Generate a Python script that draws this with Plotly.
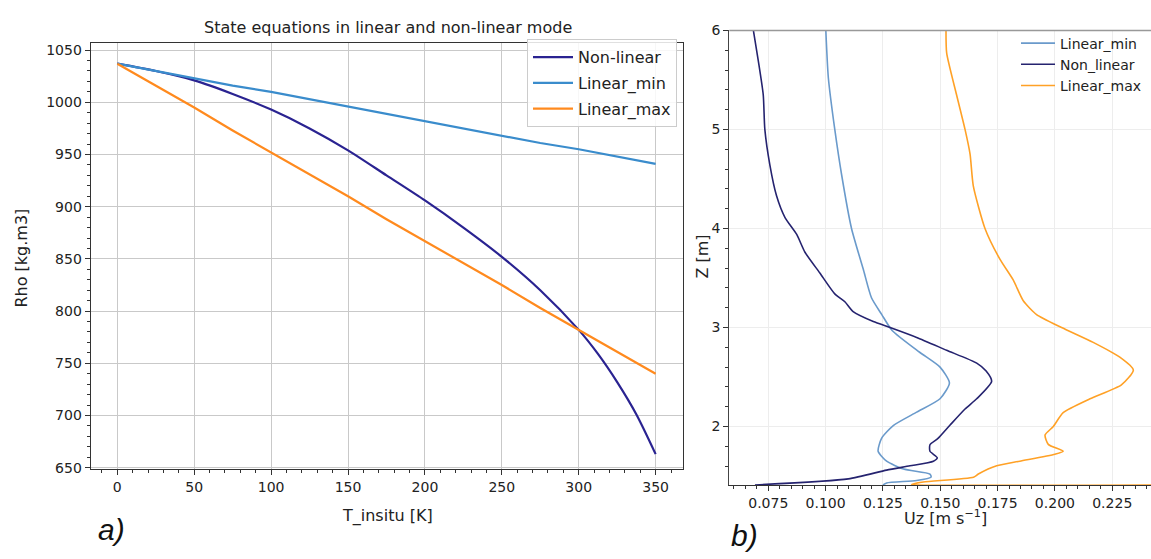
import plotly.graph_objects as go

W, H = 1151, 559

# ---------------- Panel a) data ----------------
T_lin = [0, 25, 50, 75, 100, 125, 150, 175, 200, 225, 250, 275, 300, 325, 350]
rho_linear_min = [1037, 1030, 1023, 1016, 1010, 1003, 996, 989, 982, 975, 968, 961, 955, 948, 941]
rho_linear_max = [1037, 1016, 995, 973, 952, 931, 910, 888, 867, 846, 825, 803, 782, 761, 740]
T_nl = [0, 25, 50, 75, 100, 125, 150, 175, 200, 225, 250, 275, 300, 312.5, 325, 337.5, 350]
rho_non_linear = [1037, 1030, 1021, 1008, 993, 975, 954, 930, 906, 880, 852, 820, 782, 759, 732, 701, 663]

# ---------------- Panel b) data ----------------
z_min = [6.0, 5.52, 5.0, 4.54, 4.0, 3.59, 3.30, 3.13, 2.97, 2.75, 2.60, 2.44, 2.28, 2.145,
         2.01, 1.88, 1.75, 1.65, 1.57, 1.52, 1.49, 1.455, 1.43, 1.41]
uz_min = [0.1001, 0.1012, 0.104, 0.107, 0.1113, 0.1164, 0.120, 0.1245, 0.129, 0.141, 0.1499,
          0.154, 0.1499, 0.1397, 0.1295, 0.1244, 0.1229, 0.1266, 0.134, 0.1455, 0.146, 0.1397,
          0.1266, 0.125]

z_nl = [6.0, 5.70, 5.35, 5.0, 4.64, 4.33, 4.11, 3.94, 3.76, 3.55, 3.34, 3.26, 3.16, 3.06, 3.0,
        2.90, 2.77, 2.64, 2.56, 2.456, 2.28, 2.177, 2.013, 1.88, 1.816, 1.75, 1.685, 1.65,
        1.603, 1.56, 1.471, 1.41]
uz_nl = [0.0685, 0.0706, 0.0728, 0.0735, 0.0757, 0.0786, 0.0823, 0.0874, 0.091, 0.0975, 0.104,
         0.1084, 0.112, 0.1208, 0.1281, 0.1397, 0.1528, 0.1659, 0.170, 0.1724, 0.1659, 0.1608,
         0.1542, 0.149, 0.1455, 0.1455, 0.1487, 0.147, 0.1368, 0.1266, 0.1099, 0.0692]

z_max = [6.0, 5.77, 5.35, 5.0, 4.75, 4.43, 4.0, 3.69, 3.48, 3.27, 3.13, 3.0, 2.85, 2.70, 2.57,
         2.42, 2.28, 2.14, 2.0, 1.914, 1.82, 1.75, 1.72, 1.65, 1.603, 1.52, 1.488, 1.44, 1.417,
         1.41, 1.41]
uz_max = [0.1525, 0.1528, 0.1571, 0.1608, 0.163, 0.1644, 0.1695, 0.176, 0.1818, 0.1862, 0.192,
          0.2029, 0.2167, 0.2283, 0.2342, 0.229, 0.2153, 0.2036, 0.1993, 0.1957, 0.1971, 0.2036,
          0.200, 0.1847, 0.1746, 0.1666, 0.1645, 0.1426, 0.1375, 0.140, 0.260]

x_ticks_a = [0, 50, 100, 150, 200, 250, 300, 350]
y_ticks_a = [650, 700, 750, 800, 850, 900, 950, 1000, 1050]
x_ticks_b = [0.075, 0.100, 0.125, 0.150, 0.175, 0.200, 0.225]
y_ticks_b = [2, 3, 4, 5, 6]

FONT = "DejaVu Sans"
C_NL_A, C_MIN_A, C_MAX_A = "#2a2391", "#3a8ccc", "#ff8a1e"
C_NL_B, C_MIN_B, C_MAX_B = "#25236f", "#6a9acb", "#ffa126"


def px(x):
    return x / W


def py(y):
    return 1 - y / H


fig = go.Figure()

# panel a traces
fig.add_trace(go.Scatter(x=T_nl, y=rho_non_linear, mode="lines", name="Non-linear",
                         line=dict(color=C_NL_A, width=2.2, shape="spline", smoothing=0.8),
                         xaxis="x", yaxis="y", legend="legend", legendgroup="a1"))
fig.add_trace(go.Scatter(x=T_lin, y=rho_linear_min, mode="lines", name="Linear_min",
                         line=dict(color=C_MIN_A, width=2.2), xaxis="x", yaxis="y",
                         legend="legend", legendgroup="a2"))
fig.add_trace(go.Scatter(x=T_lin, y=rho_linear_max, mode="lines", name="Linear_max",
                         line=dict(color=C_MAX_A, width=2.2), xaxis="x", yaxis="y",
                         legend="legend", legendgroup="a3"))

# panel b traces
spl = dict(shape="spline", smoothing=0.6)
fig.add_trace(go.Scatter(x=uz_min, y=z_min, mode="lines", name="Linear_min",
                         line=dict(color=C_MIN_B, width=1.6, **spl), xaxis="x2", yaxis="y2",
                         legend="legend2", legendgroup="b1"))
fig.add_trace(go.Scatter(x=uz_nl, y=z_nl, mode="lines", name="Non_linear",
                         line=dict(color=C_NL_B, width=1.6, **spl), xaxis="x2", yaxis="y2",
                         legend="legend2", legendgroup="b2"))
fig.add_trace(go.Scatter(x=uz_max, y=z_max, mode="lines", name="Linear_max",
                         line=dict(color=C_MAX_B, width=1.6, **spl), xaxis="x2", yaxis="y2",
                         legend="legend2", legendgroup="b3"))

tickfont = dict(family=FONT, size=14, color="#222")

fig.update_layout(
    width=W, height=H,
    margin=dict(l=0, r=0, t=0, b=0),
    paper_bgcolor="white", plot_bgcolor="white",
    font=dict(family=FONT, color="#222"),
    xaxis=dict(domain=[px(90.7), px(682.7)], range=[-17.3, 367.6], anchor="y",
               tickvals=x_ticks_a, ticks="outside", ticklen=5, tickcolor="#333",
               showline=True, linecolor="#333", linewidth=1.2, mirror=True,
               showgrid=True, gridcolor="#c9c9c9", gridwidth=1, zeroline=False,
               tickfont=tickfont,
               minor=dict(dtick=10, ticks="outside", ticklen=3, tickcolor="#333", showgrid=False)),
    yaxis=dict(domain=[py(473), py(35.7)], range=[648.6, 1057], anchor="x",
               tickvals=y_ticks_a, ticks="outside", ticklen=5, tickcolor="#333",
               showline=True, linecolor="#333", linewidth=1.2, mirror=True,
               showgrid=True, gridcolor="#c9c9c9", gridwidth=1, zeroline=False,
               tickfont=tickfont,
               minor=dict(dtick=10, ticks="outside", ticklen=3, tickcolor="#333", showgrid=False)),
    xaxis2=dict(domain=[px(729.3), 1.0], range=[0.0580, 0.2419], anchor="y2",
                tickvals=x_ticks_b, tickformat=".3f", ticks="outside", ticklen=5, tickcolor="#333",
                showline=True, linecolor="#333", linewidth=1, mirror=False,
                showgrid=True, gridcolor="#ededed", gridwidth=1, zeroline=False,
                tickfont=tickfont,
                minor=dict(dtick=0.005, tick0=0.075, ticks="outside", ticklen=3,
                           tickcolor="#333", showgrid=False)),
    yaxis2=dict(domain=[py(489.3), py(23)], range=[1.409, 6.0], anchor="x2",
                tickvals=y_ticks_b, ticks="outside", ticklen=5, tickcolor="#333",
                showline=True, linecolor="#444", linewidth=1, mirror=False,
                showgrid=True, gridcolor="#ededed", gridwidth=1, zeroline=False,
                tickfont=tickfont,
                minor=dict(dtick=0.2, ticks="outside", ticklen=3, tickcolor="#333", showgrid=False)),
    legend=dict(x=px(677), xanchor="right", y=py(32), yanchor="top",
                bgcolor="rgba(255,255,255,0.85)", bordercolor="#cccccc", borderwidth=1,
                font=dict(family=FONT, size=16, color="#222"), tracegroupgap=2,
                itemwidth=40, traceorder="grouped"),
    legend2=dict(x=px(1016), xanchor="left", y=py(20), yanchor="top",
                 bgcolor="rgba(0,0,0,0)", borderwidth=0,
                 font=dict(family=FONT, size=14, color="#222"), tracegroupgap=0,
                 itemwidth=34, traceorder="grouped"),
    showlegend=True,
)

# top border of panel b (lighter gray)
fig.add_shape(type="line", xref="x2 domain", yref="y2 domain", x0=0, x1=1, y0=1, y1=1,
              line=dict(color="#999999", width=1.5))

annots = [
    dict(text="State equations in linear and non-linear mode", x=px(388), y=py(20), size=16, angle=0),
    dict(text="T_insitu [K]", x=px(387), y=py(521), size=16, angle=0),
    dict(text="Rho [kg.m3]", x=px(22), y=py(257), size=16, angle=-90),
    dict(text="Uz [m s<sup>\u22121</sup>]", x=px(945), y=py(523), size=16, angle=0),
    dict(text="Z [m]", x=px(703), y=py(255), size=16, angle=-90),
]
for a in annots:
    fig.add_annotation(text=a["text"], x=a["x"], y=a["y"], xref="paper", yref="paper",
                       showarrow=False, textangle=a["angle"], xanchor="center", yanchor="middle",
                       font=dict(family=FONT, size=a["size"], color="#222"))

for lab, xx, yy in [("<i>a)</i>", 111, 535), ("<i>b)</i>", 744, 541)]:
    fig.add_annotation(text=lab, x=px(xx), y=py(yy), xref="paper", yref="paper",
                       showarrow=False, xanchor="center", yanchor="middle",
                       font=dict(family="Liberation Sans", size=30, color="#111"))

fig.write_html("out.html")
